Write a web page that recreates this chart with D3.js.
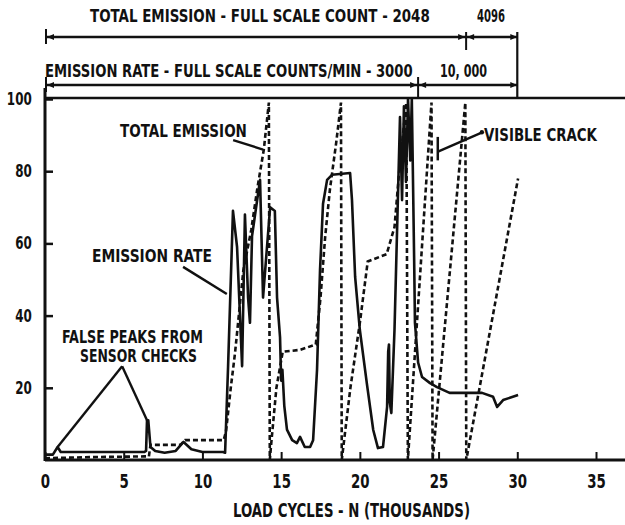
<!DOCTYPE html>
<html>
<head>
<meta charset="utf-8">
<script src="https://cdn.jsdelivr.net/npm/d3@7"></script>
<style>
  body { margin: 0; background: #fff; }
  text { font-family: "Liberation Sans Narrow", "DejaVu Sans Condensed", "Roboto", sans-serif; font-weight: bold; fill: #111; }
</style>
</head>
<body>
<script>
//global variables
var w = 625;
var h = 525;

//emission rate (solid line), load cycles in thousands vs percent of full scale
var rateCycles = [0, 0.5, 0.8, 1.0, 1.3, 3.0, 5.0, 6.3, 6.42, 6.48, 6.56, 6.7, 7.0, 7.6, 8.3, 8.8, 9.3, 10.0,
  11.0, 11.3, 11.44, 11.63, 11.94, 12.2, 12.52, 12.7, 12.9, 13.02, 13.15, 13.66, 13.85, 14.3, 14.6, 14.74,
  14.93, 15.0, 15.08, 15.2, 15.37, 15.7, 16.0, 16.2, 16.5, 16.84, 17.03, 17.28, 17.47, 17.66, 17.92, 18.23,
  19.38, 19.5, 19.7, 20.0, 20.45, 20.85, 21.15, 21.47, 21.73, 21.8, 21.85, 21.9, 22.0, 22.2, 22.55, 22.68,
  22.8, 22.93, 23.06, 23.2, 23.3, 23.45, 23.5, 23.7, 23.95, 24.46, 24.9, 25.7, 27.76, 28.46, 28.72, 29.1, 30.05];
var rateValues = [1.5, 1.5, 3.6, 2.2, 2.2, 2.2, 2.2, 2.2, 2.5, 11, 11, 3.6, 2.5, 2.0, 2.5, 5, 3, 2.2,
  2.2, 2.2, 2, 26, 69, 59, 26, 68, 45, 38, 62, 77.6, 45, 70, 69, 45,
  34, 22, 25, 15, 8.4, 5.5, 4.7, 6.4, 3.6, 3.6, 5.5, 25, 52.6, 71, 77.6, 79,
  79.5, 72, 50.7, 36, 21, 8.3, 3.3, 3.6, 14.7, 30, 32, 16, 13, 36, 95, 72,
  98, 77, 100, 83, 100, 55, 38, 27, 23, 21.3, 20.2, 18.6, 18.6, 17.5, 14.7, 16.6, 18];

//total emission (dashed line), drops back to zero each time it reaches full scale
var totalCycles = [0, 3, 6.3, 6.6, 6.7, 8.6, 8.9, 11.35, 11.5, 11.8, 12.07, 12.6, 13.1, 13.5, 13.9, 14.22,
  14.28, 14.4, 14.7, 15.1, 16.2, 17.2, 17.5, 17.8, 18.1, 18.5, 18.8, 18.85, 19.4, 20.0, 20.5, 21.7, 22.2,
  22.5, 22.95, 23.05, 24.55, 24.62, 26.7, 26.76, 30.05];
var totalValues = [0.5, 0.8, 1, 1, 4.2, 4.2, 5.5, 5.5, 8, 20, 29.6, 52.6, 63.7, 75.6, 86, 99,
  0, 6, 20, 30, 30.5, 32, 45, 62, 75, 88, 99, 0, 20, 38, 55, 57, 64.5,
  80, 99, 0, 99, 0, 99, 0, 78];

//axis ticks
var xTicks = [0, 5, 10, 15, 20, 25, 30, 35];
var yTicks = [20, 40, 60, 80, 100];

//scale brackets on top: full scale changes (thousands of cycles)
var bracketStart = 0;
var bracketEnd = 30;
var totalScaleChange = 26.75;
var rateScaleChange = 23.7;

var rateData = rateCycles.map(function(c, i) { return [c, rateValues[i]]; });
var totalData = totalCycles.map(function(c, i) { return [c, totalValues[i]]; });

var xScale = d3.scaleLinear()
  .domain([0, 35])
  .range([45, 596]);

var yScale = d3.scaleLinear()
  .domain([0, 100])
  .range([460, 99]);

//Create SVG element
var svg = d3.select("body")
  .append("svg")
  .attr("width", w)
  .attr("height", h);

//x axis, ticks point up into the plot
var xAxis = svg.append("g")
  .attr("transform", "translate(0," + yScale(0) + ")")
  .call(d3.axisBottom(xScale).tickValues(xTicks).tickSizeInner(-8).tickSizeOuter(0).tickPadding(15));
xAxis.select(".domain").remove();
xAxis.selectAll("line").attr("stroke", "#111").attr("stroke-width", 2);
xAxis.selectAll("text")
  .attr("font-size", "19px")
  .attr("fill", "#111")
  .attr("transform", "scale(0.78,1)");

//y axis, ticks point right
var yAxis = svg.append("g")
  .attr("transform", "translate(" + xScale(0) + ",0)")
  .call(d3.axisLeft(yScale).tickValues(yTicks).tickSizeInner(-8).tickSizeOuter(0).tickPadding(17));
yAxis.select(".domain").remove();
yAxis.selectAll("line").attr("stroke", "#111").attr("stroke-width", 2.5);
yAxis.selectAll("text")
  .attr("font-size", "17px")
  .attr("fill", "#111")
  .attr("transform", "scale(0.78,1)");

//frame lines
svg.append("line")
  .attr("x1", xScale(0)).attr("x2", w)
  .attr("y1", yScale(0)).attr("y2", yScale(0))
  .attr("stroke", "#111").attr("stroke-width", 3);
svg.append("line")
  .attr("x1", xScale(0)).attr("x2", xScale(0))
  .attr("y1", yScale(0) + 1).attr("y2", 88)
  .attr("stroke", "#111").attr("stroke-width", 3);
svg.append("line")
  .attr("x1", xScale(0)).attr("x2", w)
  .attr("y1", yScale(100) - 1).attr("y2", yScale(100) - 1)
  .attr("stroke", "#111").attr("stroke-width", 2.5);

//data lines
var line = d3.line()
  .x(function(d) { return xScale(d[0]); })
  .y(function(d) { return yScale(d[1]); });

svg.append("path")
  .datum(totalData)
  .attr("d", line)
  .attr("fill", "none")
  .attr("stroke", "#111")
  .attr("stroke-width", 2.6)
  .attr("stroke-dasharray", "5,3");

svg.append("path")
  .datum(rateData)
  .attr("d", line)
  .attr("fill", "none")
  .attr("stroke", "#111")
  .attr("stroke-width", 2.6)
  .attr("stroke-linejoin", "round");

//small arrow heads for the brackets
function arrowHead(x, y, dir) {
  svg.append("path")
    .attr("d", "M" + x + "," + y + "L" + (x - 7 * dir) + "," + (y - 3) + "L" + (x - 7 * dir) + "," + (y + 3) + "Z")
    .attr("fill", "#111");
}

function bracket(y, change, tickTop, tickBottom) {
  var x0 = xScale(bracketStart), x1 = xScale(bracketEnd), xm = xScale(change);
  svg.append("line")
    .attr("x1", x0).attr("x2", x1).attr("y1", y).attr("y2", y)
    .attr("stroke", "#111").attr("stroke-width", 2.5);
  svg.append("line")
    .attr("x1", x0 + 1).attr("x2", x0 + 1).attr("y1", y - 8).attr("y2", y + 7)
    .attr("stroke", "#111").attr("stroke-width", 2);
  svg.append("line")
    .attr("x1", xm).attr("x2", xm).attr("y1", tickTop).attr("y2", tickBottom)
    .attr("stroke", "#111").attr("stroke-width", 2);
  arrowHead(x0 + 2, y, -1);
  arrowHead(xm - 1, y, 1);
  arrowHead(xm + 1, y, -1);
  arrowHead(x1, y, 1);
}

bracket(37, totalScaleChange, 32, 50);
bracket(85, rateScaleChange, 77, yScale(100));

//right end of both brackets down to the frame
svg.append("line")
  .attr("x1", xScale(bracketEnd)).attr("x2", xScale(bracketEnd))
  .attr("y1", 32).attr("y2", yScale(100))
  .attr("stroke", "#111").attr("stroke-width", 2.2);

//texts squeezed sideways to the condensed lettering of the original
function label(txt, x, y, size, len) {
  var t = svg.append("text")
    .attr("font-size", size + "px")
    .text(txt);
  var natural = t.node().getComputedTextLength();
  t.attr("transform", "translate(" + x + "," + y + ") scale(" + (len / natural) + ",1)");
}

label("TOTAL EMISSION - FULL SCALE COUNT - 2048", 90, 22, 17, 340);
label("4096", 477, 22, 17, 28);
label("EMISSION RATE - FULL SCALE COUNTS/MIN - 3000", 45, 77, 17, 368);
label("10, 000", 440, 77, 17, 47);

//axis title
label("LOAD CYCLES - N (THOUSANDS)", 233, 517, 20, 237);

//annotations
label("TOTAL EMISSION", 120, 137, 18, 127);
label("EMISSION RATE", 92, 262, 18, 120);
label("FALSE PEAKS FROM", 62, 343, 17, 141);
label("SENSOR CHECKS", 80, 362, 17, 117);
label("VISIBLE CRACK", 484, 141, 18, 113);

//leader lines, in data units
var leaders = [
  [[11.95, 88.6], [13.85, 86]],
  [[8.77, 53.5], [11.55, 46]],
  [[4.9, 26], [0.8, 3.6]],
  [[4.9, 26], [6.48, 11]],
  [[27.7, 90.6], [25.0, 85.5]]
];

svg.selectAll(".leader")
  .data(leaders)
  .enter()
  .append("path")
  .attr("class", "leader")
  .attr("d", line)
  .attr("fill", "none")
  .attr("stroke", "#111")
  .attr("stroke-width", 2.4);

//bar at end of the crack leader
svg.append("line")
  .attr("x1", xScale(24.95)).attr("x2", xScale(24.95))
  .attr("y1", yScale(89.5)).attr("y2", yScale(83))
  .attr("stroke", "#111").attr("stroke-width", 2.5);
svg.append("circle")
  .attr("cx", xScale(27.75)).attr("cy", yScale(90.8))
  .attr("r", 2.2)
  .attr("fill", "#111");
</script>
</body>
</html>
